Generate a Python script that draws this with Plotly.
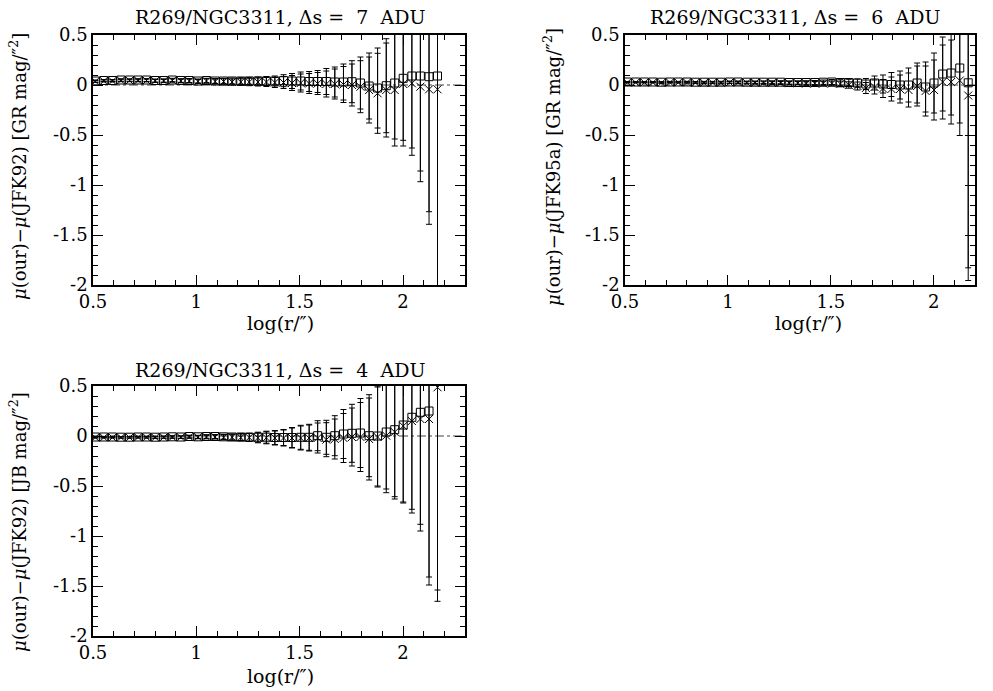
import plotly.graph_objects as go

# ---------------- data ----------------
log_r = [0.511, 0.552, 0.594, 0.635, 0.677, 0.718, 0.759, 0.801, 0.842, 0.884,
         0.925, 0.966, 1.008, 1.049, 1.091, 1.132, 1.173, 1.215, 1.256, 1.298,
         1.339, 1.380, 1.422, 1.463, 1.505, 1.546, 1.587, 1.629, 1.670, 1.712,
         1.753, 1.794, 1.836, 1.877, 1.919, 1.960, 2.001, 2.043, 2.084, 2.126, 2.167]

# Panel 1: R269/NGC3311, ds = 7 ADU  (GR, JFK92)
sq1 = [0.04, 0.045, 0.045, 0.05, 0.05, 0.05, 0.05, 0.045, 0.045, 0.05,
       0.045, 0.045, 0.04, 0.045, 0.04, 0.04, 0.04, 0.04, 0.04, 0.04,
       0.04, 0.04, 0.043, 0.04, 0.04, 0.035, 0.035, 0.035, 0.03, 0.03,
       0.033, 0.02, -0.01, -0.03, -0.007, 0.02, 0.067, 0.09, 0.09, 0.083, 0.09]
cr1 = [0.035, 0.04, 0.04, 0.045, 0.045, 0.045, 0.045, 0.04, 0.04, 0.045,
       0.04, 0.04, 0.035, 0.04, 0.035, 0.035, 0.03, 0.03, 0.03, 0.03,
       0.03, 0.025, 0.025, 0.02, 0.02, 0.015, 0.015, 0.01, 0.01, 0.005,
       0.0, -0.017, -0.05, -0.083, -0.05, -0.05, 0.01, 0.017, -0.017, -0.043, -0.043]
err1 = [0.01, 0.01, 0.01, 0.012, 0.012, 0.013, 0.014, 0.015, 0.016, 0.017,
        0.018, 0.02, 0.02, 0.022, 0.025, 0.027, 0.03, 0.033, 0.037, 0.04,
        0.045, 0.05, 0.06, 0.075, 0.09, 0.1, 0.11, 0.13, 0.15, 0.18,
        0.21, 0.26, 0.33, 0.4, 0.47, 0.56, 0.62, 0.72, 0.95, 1.35, 2.6]

# Panel 2: R269/NGC3311, ds = 6 ADU  (GR, JFK95a)
sq2 = [0.03, 0.03, 0.03, 0.03, 0.028, 0.03, 0.03, 0.03, 0.028, 0.028,
       0.028, 0.028, 0.03, 0.03, 0.028, 0.028, 0.028, 0.028, 0.028, 0.025,
       0.025, 0.025, 0.025, 0.028, 0.03, 0.025, 0.025, 0.02, 0.01, 0.02,
       0.01, 0.005, 0.0, 0.0, 0.02, -0.02, 0.02, 0.11, 0.12, 0.17, 0.022]
cr2 = [0.025, 0.025, 0.025, 0.025, 0.022, 0.025, 0.025, 0.025, 0.022, 0.022,
       0.022, 0.022, 0.025, 0.025, 0.022, 0.022, 0.02, 0.02, 0.02, 0.018,
       0.018, 0.015, 0.015, 0.015, 0.015, 0.01, 0.0, -0.01, -0.03, -0.02,
       -0.035, -0.04, -0.04, -0.05, -0.01, -0.06, -0.05, 0.03, 0.03, 0.045, -0.105]
err2 = [0.005, 0.005, 0.005, 0.005, 0.006, 0.006, 0.006, 0.007, 0.007, 0.008,
        0.008, 0.009, 0.01, 0.01, 0.011, 0.012, 0.013, 0.014, 0.015, 0.016,
        0.017, 0.018, 0.02, 0.022, 0.025, 0.028, 0.032, 0.04, 0.055, 0.07,
        0.09, 0.12, 0.14, 0.17, 0.2, 0.25, 0.3, 0.37, 0.42, 0.55, 1.85]

# Panel 3: R269/NGC3311, ds = 4 ADU  (JB, JFK92)
sq3 = [-0.01, -0.01, -0.01, -0.012, -0.012, -0.01, -0.01, -0.012, -0.01, -0.008,
       -0.01, -0.005, -0.008, -0.005, -0.005, -0.008, -0.01, -0.01, -0.012, -0.012,
       -0.012, -0.015, -0.015, -0.015, -0.013, -0.013, 0.003, -0.013, 0.003, 0.02,
       0.027, 0.03, 0.003, 0.0, 0.04, 0.063, 0.11, 0.187, 0.237, 0.25, 0.6]
cr3 = [-0.015, -0.015, -0.015, -0.015, -0.015, -0.013, -0.013, -0.015, -0.013, -0.012,
       -0.013, -0.01, -0.012, -0.01, -0.01, -0.012, -0.013, -0.015, -0.015, -0.018,
       -0.018, -0.02, -0.02, -0.02, -0.02, -0.02, -0.02, -0.037, -0.03, -0.02,
       -0.01, -0.01, -0.03, -0.01, 0.003, 0.04, 0.1, 0.15, 0.17, 0.17, 0.487]
err3 = [0.006, 0.006, 0.006, 0.007, 0.007, 0.008, 0.008, 0.009, 0.01, 0.011,
        0.012, 0.013, 0.015, 0.018, 0.02, 0.025, 0.03, 0.035, 0.04, 0.05,
        0.06, 0.07, 0.08, 0.1, 0.12, 0.13, 0.15, 0.17, 0.2, 0.245,
        0.29, 0.345, 0.41, 0.5, 0.57, 0.67, 0.77, 0.92, 1.12, 1.66, 2.14]

titles = ["R269/NGC3311, \u0394s\u00a0=\u00a0\u00a07\u00a0\u00a0ADU",
          "R269/NGC3311, \u0394s\u00a0=\u00a0\u00a06\u00a0\u00a0ADU",
          "R269/NGC3311, \u0394s\u00a0=\u00a0\u00a04\u00a0\u00a0ADU"]
ytitles = ["<i>\u03bc</i>(our)\u2212<i>\u03bc</i>(JFK92) [GR mag/\u2033<sup>2</sup>]",
           "<i>\u03bc</i>(our)\u2212<i>\u03bc</i>(JFK95a) [GR mag/\u2033<sup>2</sup>]",
           "<i>\u03bc</i>(our)\u2212<i>\u03bc</i>(JFK92) [JB mag/\u2033<sup>2</sup>]"]
xtitle = "log(r/\u2033)"
xticks = [0.5, 1, 1.5, 2]
xticktext = ["0.5", "1", "1.5", "2"]
yticks = [0.5, 0, -0.5, -1, -1.5, -2]
yticktext = ["0.5", "0", "-0.5", "-1", "-1.5", "-2"]

# ---------------- layout geometry ----------------
W, H = 993, 691
FONT = "DejaVu Serif"

def px(x):
    return x / W

def py(y):
    return 1 - y / H

panels = [
    dict(x0=93, x1=465, y0=35, y1=285, xr=[0.5, 2.3], sq=sq1, cr=cr1, err=err1,
         tpos=(280, 17), xtpos=(280, 323), ytpos=(18, 167)),
    dict(x0=625, x1=975, y0=35, y1=285, xr=[0.5, 2.2], sq=sq2, cr=cr2, err=err2,
         tpos=(795, 17), xtpos=(808, 323), ytpos=(552, 167)),
    dict(x0=93, x1=465, y0=386, y1=636, xr=[0.5, 2.3], sq=sq3, cr=cr3, err=err3,
         tpos=(280, 370), xtpos=(280, 676), ytpos=(18, 522)),
]

fig = go.Figure()
annotations = []
shapes = []
layout_axes = {}

for i, p in enumerate(panels):
    n = "" if i == 0 else str(i + 1)
    xa, ya = "x" + n, "y" + n
    for vals, sym in ((p["sq"], "square-open"), (p["cr"], "x-thin-open")):
        fig.add_trace(go.Scatter(
            x=log_r, y=vals, xaxis=xa, yaxis=ya, mode="markers",
            marker=dict(symbol=sym, size=8, color="black",
                        line=dict(width=1, color="black")),
            error_y=dict(type="data", array=p["err"], visible=True,
                         color="black", thickness=1, width=3),
            showlegend=False, hoverinfo="skip"))
    common = dict(showline=True, linecolor="black", linewidth=1.5, mirror="allticks",
                  ticks="inside", ticklen=10, tickwidth=1.2, tickcolor="black",
                  showgrid=False, zeroline=False, automargin=False,
                  tickfont=dict(family=FONT, size=18, color="black"),
                  minor=dict(ticks="inside", ticklen=5, dtick=0.1, tick0=0,
                             tickcolor="black", tickwidth=1, showgrid=False))
    layout_axes["xaxis" + n] = dict(common, domain=[px(p["x0"]), px(p["x1"])],
                                    range=p["xr"], anchor=ya, tickmode="array",
                                    tickvals=xticks, ticktext=xticktext)
    layout_axes["yaxis" + n] = dict(common, domain=[py(p["y1"]), py(p["y0"])],
                                    range=[-2, 0.5], anchor=xa, tickmode="array",
                                    tickvals=yticks, ticktext=yticktext)
    shapes.append(dict(type="line", xref=xa, yref=ya, x0=p["xr"][0], x1=p["xr"][1],
                       y0=0, y1=0, layer="below",
                       line=dict(color="#444", width=1, dash="dashdot")))
    annotations.append(dict(text=titles[i], x=px(p["tpos"][0]), y=py(p["tpos"][1]),
                            xref="paper", yref="paper", showarrow=False,
                            xanchor="center", yanchor="middle",
                            font=dict(family=FONT, size=19, color="black")))
    annotations.append(dict(text=xtitle, x=px(p["xtpos"][0]), y=py(p["xtpos"][1]),
                            xref="paper", yref="paper", showarrow=False,
                            xanchor="center", yanchor="middle",
                            font=dict(family=FONT, size=19, color="black")))
    annotations.append(dict(text=ytitles[i], x=px(p["ytpos"][0]), y=py(p["ytpos"][1]),
                            xref="paper", yref="paper", showarrow=False, textangle=-90,
                            xanchor="center", yanchor="middle",
                            font=dict(family=FONT, size=18, color="black")))

fig.update_layout(width=W, height=H, margin=dict(l=0, r=0, t=0, b=0, autoexpand=False),
                  paper_bgcolor="white", plot_bgcolor="white",
                  annotations=annotations, shapes=shapes, **layout_axes)

fig.write_html("out.html")
